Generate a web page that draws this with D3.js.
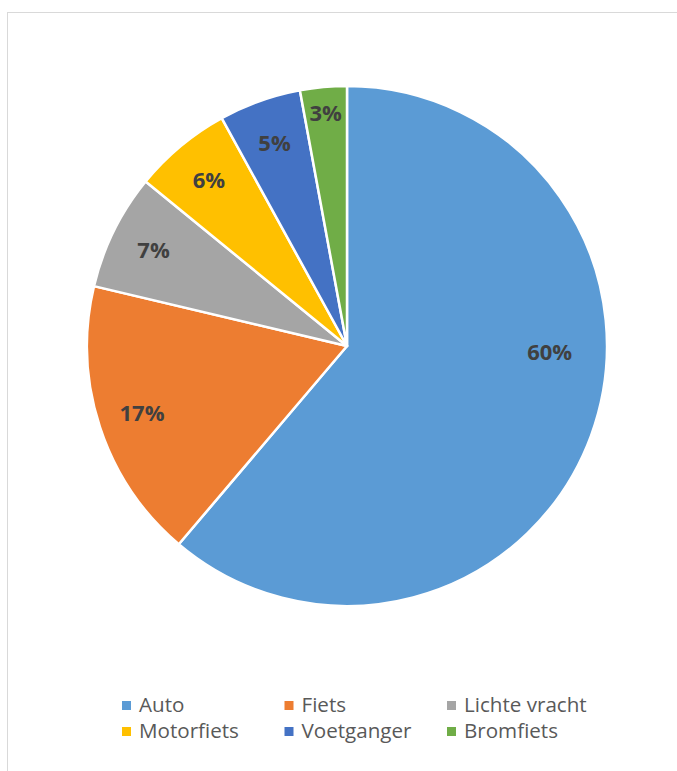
<!DOCTYPE html>
<html>
<head>
<meta charset="utf-8">
<script src="https://cdn.jsdelivr.net/npm/d3@7"></script>
<style>
  body { margin: 0; background: #fff; }
  svg { display: block; }
</style>
</head>
<body>
<svg id="chart" width="677" height="771"></svg>
<script>
// data
let categories = ['Auto', 'Fiets', 'Lichte vracht', 'Motorfiets', 'Voetganger', 'Bromfiets'],
    values = [61.2, 17.5, 7.2, 6.1, 5.1, 2.9],
    pctLabels = ['60%', '17%', '7%', '6%', '5%', '3%'],
    colors = ['#5B9BD5', '#ED7D31', '#A5A5A5', '#FFC000', '#4472C4', '#70AD47'];

let W = 677, H = 771, cx = 347, cy = 346, r = 260;
let svg = d3.select('#chart');

// cadre
svg.append('rect')
    .attr('x', 7.5).attr('y', 12.5)
    .attr('width', W).attr('height', H)
    .attr('fill', 'none')
    .attr('stroke', '#d9d9d9')
    .attr('stroke-width', 1);

let data = categories.map((c, i) => ({cat: c, val: values[i], lab: pctLabels[i], col: colors[i]}));

let pie = d3.pie().sort(null).value(d => d.val),
    arc = d3.arc().innerRadius(0).outerRadius(r),
    arcs = pie(data);

let g = svg.append('g').attr('transform', `translate(${cx},${cy})`);

g.selectAll('path.slice').data(arcs).enter()
    .append('path')
    .attr('class', 'slice')
    .attr('d', arc)
    .attr('fill', d => d.data.col)
    .attr('stroke', '#fff')
    .attr('stroke-width', 2.5)
    .attr('stroke-linejoin', 'round');

// labels: best fit, la grande part est ramenee vers l'horizontale
function labelPos(d){
    let a = (d.startAngle + d.endAngle) / 2, rr = r * 0.83;
    if (d.endAngle - d.startAngle > Math.PI) { a = Math.min(a, Math.PI / 2 + 0.03); rr = r * 0.78; }
    if (d.endAngle - d.startAngle < 0.2) rr = r * 0.9;
    return [Math.sin(a) * rr, -Math.cos(a) * rr];
}

g.selectAll('text.lab').data(arcs).enter()
    .append('text')
    .attr('class', 'lab')
    .attr('x', d => labelPos(d)[0])
    .attr('y', d => labelPos(d)[1])
    .attr('dy', '0.36em')
    .attr('text-anchor', 'middle')
    .attr('font-family', '"Open Sans", sans-serif')
    .attr('font-weight', 'bold')
    .attr('font-size', 22)
    .attr('fill', '#404040')
    .text(d => d.data.lab);

// legende
let colX = d3.scalePoint().domain([0, 1, 2]).range([122, 447]),
    rowY = d3.scalePoint().domain([0, 1]).range([712, 738]);

let leg = svg.selectAll('g.leg').data(data).enter()
    .append('g')
    .attr('class', 'leg')
    .attr('transform', (d, i) => `translate(${colX(i % 3)},${rowY(Math.floor(i / 3))})`);

leg.append('rect')
    .attr('x', 0).attr('y', -11)
    .attr('width', 9).attr('height', 9)
    .attr('fill', d => d.col);

leg.append('text')
    .attr('x', 17)
    .attr('y', 0)
    .attr('font-family', '"Open Sans", sans-serif')
    .attr('font-size', 20.6)
    .attr('fill', '#595959')
    .text(d => d.cat);
</script>
</body>
</html>
